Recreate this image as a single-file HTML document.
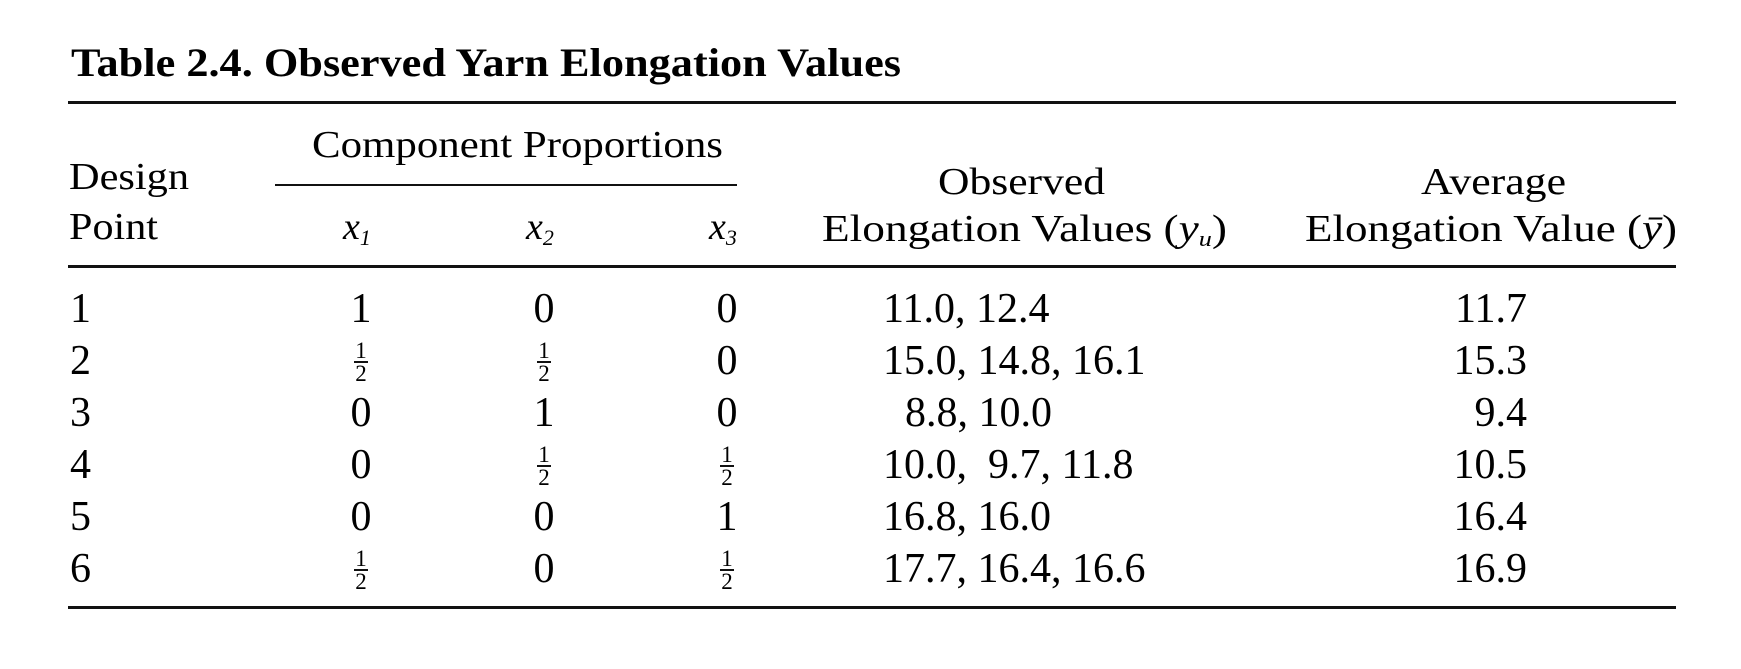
<!DOCTYPE html>
<html><head><meta charset="utf-8"><style>
html,body{margin:0;padding:0;background:#fff;}
svg{display:block;font-family:"Liberation Serif",serif;}
</style></head><body>
<svg width="1741" height="669" viewBox="0 0 1741 669">
<rect width="1741" height="669" fill="#fff"/>
<text x="71" y="76" font-size="40" font-weight="bold" textLength="830" lengthAdjust="spacingAndGlyphs">Table 2.4.  Observed Yarn Elongation Values</text>
<rect x="68" y="101" width="1608" height="3" fill="#111"/>
<text x="312" y="157" font-size="38" textLength="411" lengthAdjust="spacingAndGlyphs">Component Proportions</text>
<rect x="275" y="184" width="462" height="2" fill="#111"/>
<text x="69" y="189" font-size="38" textLength="120" lengthAdjust="spacingAndGlyphs">Design</text>
<text x="69" y="239" font-size="38" textLength="89" lengthAdjust="spacingAndGlyphs">Point</text>
<text x="343" y="239" font-size="38" font-style="italic">x<tspan font-size="22" dy="6">1</tspan></text>
<text x="526" y="239" font-size="38" font-style="italic">x<tspan font-size="22" dy="6">2</tspan></text>
<text x="709" y="239" font-size="38" font-style="italic">x<tspan font-size="22" dy="6">3</tspan></text>
<text x="938" y="194" font-size="38" textLength="167" lengthAdjust="spacingAndGlyphs">Observed</text>
<text x="822" y="241" font-size="38" textLength="405" lengthAdjust="spacingAndGlyphs">Elongation Values (<tspan font-style="italic">y<tspan font-size="22" dy="5">u</tspan></tspan><tspan dy="-5">)</tspan></text>
<text x="1421" y="194" font-size="38" textLength="145" lengthAdjust="spacingAndGlyphs">Average</text>
<text x="1305" y="241" font-size="38" textLength="372" lengthAdjust="spacingAndGlyphs">Elongation Value (<tspan font-style="italic">ȳ</tspan>)</text>
<rect x="68" y="265" width="1608" height="3" fill="#111"/>
<g id="rows"></g>
<rect x="68" y="606" width="1608" height="3" fill="#111"/>
</svg>
<script>
const points=["1","2","3","4","5","6"];
const x1=["1","1/2","0","0","0","1/2"];
const x2=["0","1/2","1","1/2","0","0"];
const x3=["0","0","0","1/2","1","1/2"];
const observed=["11.0, 12.4","15.0, 14.8, 16.1","8.8, 10.0","10.0,  9.7, 11.8","16.8, 16.0","17.7, 16.4, 16.6"];
const averages=["11.7","15.3","9.4","10.5","16.4","16.9"];
const NS="http://www.w3.org/2000/svg";
const g=document.getElementById('rows');
function rowY(i){return 322+i*52;}
function txt(x,y,s,anchor,size){
  const t=document.createElementNS(NS,'text');
  t.setAttribute('x',x);t.setAttribute('y',y);t.setAttribute('font-size',size||42);
  if(anchor)t.setAttribute('text-anchor',anchor);
  t.textContent=s;g.appendChild(t);return t;
}
function cell(v,cx,y,name){
  if(v==="1/2"){
    const a=txt(cx,y-16,"1","middle",23);
    
    
    const r=document.createElementNS(NS,'rect');
    r.setAttribute('x',cx-7);r.setAttribute('y',y-13);r.setAttribute('width',14);r.setAttribute('height',2);r.setAttribute('fill','#111');
    
    
    g.appendChild(r);
    const b=txt(cx,y+7,"2","middle",23);
    
    
  } else {
    const t=txt(cx,y,v,"middle");
    
    
  }
}
points.forEach((p,i)=>{
  const y=rowY(i);
  const t=txt(70,y,p);
  
  
  cell(x1[i],361,y,'x1-row-'+p);
  cell(x2[i],544,y,'x2-row-'+p);
  cell(x3[i],727,y,'x3-row-'+p);
  const o=txt(observed[i].startsWith("8")?905:883,y,observed[i]);
  o.setAttribute('xml:space','preserve');
  o.style.whiteSpace='pre';
  
  
  const a=txt(1527,y,averages[i],"end");
  
  
});
</script>
</body></html>
